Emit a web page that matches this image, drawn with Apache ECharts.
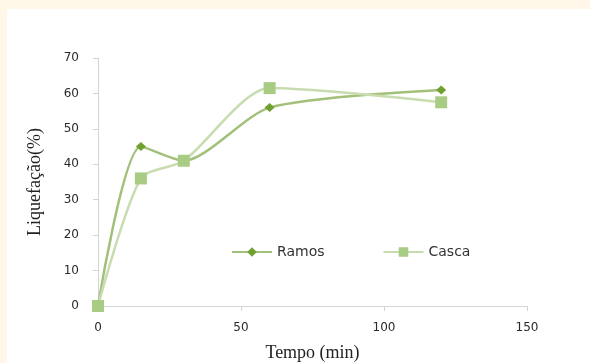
<!DOCTYPE html>
<html>
<head>
<meta charset="utf-8">
<script src="https://cdn.jsdelivr.net/npm/echarts@6/dist/echarts.min.js"></script>
<style>
  html, body { margin: 0; padding: 0; background: #fff8e8; }
  #wrap { position: absolute; left: 7px; top: 9px; width: 583px; height: 354px; background: #ffffff; }
  #chart { position: absolute; left: -7px; top: -9px; width: 590px; height: 363px; }
</style>
</head>
<body>
<div id="wrap"><div id="chart"></div></div>
<script>
// Liquefaction over time for two biomass fractions
const tempo = [0, 15, 30, 60, 120];
const ramos = [0, 45, 41, 56, 61];
const casca = [0, 36, 41, 61.5, 57.5];
const seriesNames = ['Ramos', 'Casca'];
const xTitle = 'Tempo (min)';
const yTitle = 'Liquefação(%)';

const chart = echarts.init(document.getElementById('chart'), null, { renderer: 'canvas' });

const axisLabelStyle = { color: '#2a2a2a', fontFamily: 'DejaVu Sans', fontSize: 12 };

chart.setOption({
  backgroundColor: 'transparent',
  animation: false,
  grid: { left: 98, right: 63, top: 58, bottom: 57, outerBoundsMode: 'none', containLabel: false },
  legend: {
    left: 226, top: 240,
    itemWidth: 40, itemHeight: 12, itemGap: 58,
    textStyle: { color: '#333', fontFamily: 'DejaVu Sans', fontSize: 14 },
    data: seriesNames
  },
  xAxis: {
    type: 'value', min: 0, max: 150, interval: 50,
    name: xTitle, nameLocation: 'middle', nameGap: 38,
    nameTextStyle: { fontFamily: 'Liberation Serif', fontSize: 18, color: '#222' },
    axisLine: { show: true, lineStyle: { color: '#d4d4d4', width: 1 } },
    axisTick: { show: true, length: 5, lineStyle: { color: '#d4d4d4' } },
    axisLabel: Object.assign({ margin: 16 }, axisLabelStyle),
    splitLine: { show: false }
  },
  yAxis: {
    type: 'value', min: 0, max: 70, interval: 10,
    name: yTitle, nameLocation: 'middle', nameGap: 54,
    nameTextStyle: { fontFamily: 'Liberation Serif', fontSize: 18, color: '#222' },
    axisLine: { show: true, lineStyle: { color: '#d4d4d4', width: 1 } },
    axisTick: { show: true, length: 5, lineStyle: { color: '#d4d4d4' } },
    axisLabel: Object.assign({ margin: 19 }, axisLabelStyle),
    splitLine: { show: false }
  },
  series: [
    {
      name: seriesNames[0], type: 'line', smooth: 0.25,
      data: tempo.map((t, i) => [t, ramos[i]]),
      symbol: 'diamond', symbolSize: [10, 9],
      lineStyle: { color: '#a2c07a', width: 2.5 },
      itemStyle: { color: '#70a030' },
      z: 2
    },
    {
      name: seriesNames[1], type: 'line', smooth: 0.25,
      data: tempo.map((t, i) => [t, casca[i]]),
      symbol: 'rect', symbolSize: 12,
      lineStyle: { color: '#c8dcb0', width: 2.5 },
      itemStyle: { color: '#a9cc84' },
      z: 3
    }
  ]
});
</script>
</body>
</html>
